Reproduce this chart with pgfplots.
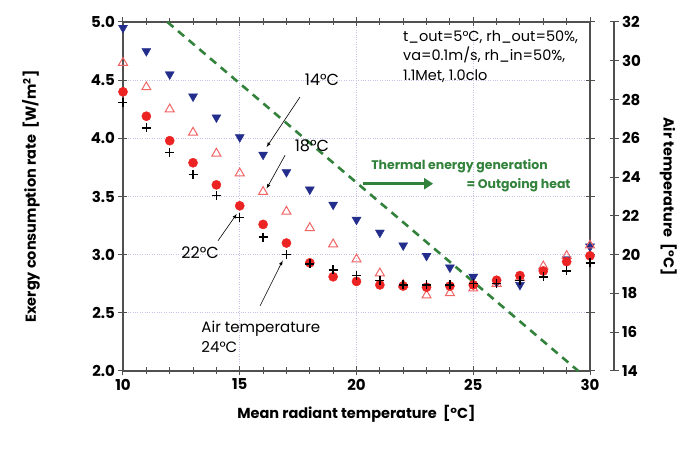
\documentclass[border=0pt]{standalone}
\usepackage{fontspec}
\setmainfont{Poppins}
\usepackage{pgfplots}
\pgfplotsset{compat=1.18}
\usetikzlibrary{arrows.meta}
\definecolor{blueT}{RGB}{35,45,140}
\definecolor{redC}{RGB}{235,35,35}
\definecolor{redT}{RGB}{240,100,100}
\definecolor{greenL}{RGB}{50,130,60}
\definecolor{gridc}{RGB}{195,195,235}
\definecolor{axisc}{RGB}{80,80,80}
\begin{document}
\begin{tikzpicture}
\useasboundingbox (-123pt,-83pt) rectangle (570pt,371pt);
\pgfplotsset{
  common/.style={scale only axis, width=467pt, height=349pt, xmin=10, xmax=30,
    tick align=center, major tick length=9pt, minor tick length=7pt,
    axis line style={axisc, line width=1.2pt},
    every tick/.style={axisc, line width=1pt},
    ticklabel style={font=\fontsize{15}{15}\selectfont\bfseries},
    /pgf/number format/assume math mode=true,
    label style={font=\fontsize{14.5}{17}\selectfont\bfseries},
  }
}
\begin{axis}[common, ymin=2, ymax=5,
  xtick={10,15,20,25,30}, minor xtick={11,12,13,14,16,17,18,19,21,22,23,24,26,27,28,29},
  ytick={2,2.5,3,3.5,4,4.5,5},
  yticklabel style={/pgf/number format/.cd, fixed, fixed zerofill, precision=1},
  grid=major, major grid style={gridc, dotted, line width=0.9pt},
  xlabel={Mean radiant temperature\ \ [°C]},
  ylabel={Exergy consumption rate\ \ [W/m\textsuperscript{2}]},
  xlabel style={yshift=-8pt},
  ylabel shift=44pt,
  clip=false]
% green dashed line
\addplot[greenL, line width=2.6pt, dash pattern=on 8pt off 6pt] coordinates {(11.9,5.0) (29.5,2.0)};
% 14 C (blue inverted triangles)
\addplot[only marks, mark=triangle*, mark size=5.2pt, mark options={rotate=180, fill=blueT, draw=blueT}] coordinates {
(10,4.95) (11,4.75) (12,4.55) (13,4.36) (14,4.18) (15,4.01) (16,3.86) (17,3.71) (18,3.56) (19,3.43) (20,3.30)
(21,3.19) (22,3.08) (23,2.99) (24,2.89) (25,2.81) (26,2.76) (27,2.74) (28,2.86) (29,2.96) (30,3.07)};
% 18 C (open red triangles)
\addplot[only marks, mark=triangle, mark size=5.2pt, mark options={draw=redT, line width=1pt}] coordinates {
(10,4.65) (11,4.44) (12,4.25) (13,4.05) (14,3.87) (15,3.70) (16,3.54) (17,3.37) (18,3.23) (19,3.09) (20,2.96)
(21,2.84) (22,2.74) (23,2.65) (24,2.67) (25,2.71) (26,2.75) (27,2.80) (28,2.90) (29,2.99) (30,3.08)};
% 22 C (red circles)
\addplot[only marks, mark=*, mark size=4.6pt, mark options={fill=redC, draw=redC}] coordinates {
(10,4.40) (11,4.19) (12,3.98) (13,3.79) (14,3.60) (15,3.42) (16,3.26) (17,3.10) (18,2.93) (19,2.81) (20,2.77)
(21,2.74) (22,2.73) (23,2.72) (24,2.73) (25,2.74) (26,2.78) (27,2.82) (28,2.86) (29,2.94) (30,2.99)};
% 24 C (black crosses)
\addplot[only marks, mark=+, mark size=4.5pt, mark options={draw=black, line width=1.5pt}] coordinates {
(10,4.31) (11,4.09) (12,3.88) (13,3.69) (14,3.51) (15,3.32) (16,3.15) (17,3.00) (18,2.92) (19,2.87) (20,2.82)
(21,2.78) (22,2.74) (23,2.74) (24,2.74) (25,2.75) (26,2.75) (27,2.78) (28,2.81) (29,2.86) (30,2.93)};
% annotations
\draw[-latex, black, line width=0.6pt] (axis cs:17.58,4.355) -- (axis cs:16.15,3.925);
\node[font=\fontsize{16}{16}\selectfont] at (axis cs:18.52,4.50) {14°C};
\draw[-latex, black, line width=0.6pt] (axis cs:16.94,3.854) -- (axis cs:16.15,3.568);
\node[font=\fontsize{16}{16}\selectfont] at (axis cs:18.09,3.94) {18°C};
\draw[-latex, black, line width=0.6pt] (axis cs:14.07,3.12) -- (axis cs:14.87,3.35);
\node[font=\fontsize{16}{16}\selectfont] at (axis cs:13.30,3.02) {22°C};
\draw[-latex, black, line width=0.6pt] (axis cs:15.87,2.56) -- (axis cs:16.84,2.95);
\node[font=\fontsize{15}{20}\selectfont, anchor=west, align=left] at (axis cs:13.21,2.29) {Air temperature\\24°C};
% thermal energy
\draw[-{Triangle[length=9pt,width=11pt]}, greenL, line width=3.5pt] (axis cs:20.28,3.61) -- (axis cs:23.28,3.61);
\node[font=\fontsize{12.5}{12.5}\selectfont\bfseries, text=greenL] at (axis cs:24.41,3.76) {Thermal energy generation};
\node[font=\fontsize{12.5}{12.5}\selectfont\bfseries, text=greenL] at (axis cs:26.94,3.60) {= Outgoing heat};
\node[font=\fontsize{14.5}{19.5}\selectfont, anchor=north west, align=left, inner sep=0pt] at (axis cs:21.99,4.93)
  {t\_out=5°C, rh\_out=50\%,\\va=0.1m/s, rh\_in=50\%,\\1.1Met, 1.0clo};
\end{axis}
\begin{axis}[common, at={(24pt,0pt)}, ymin=14, ymax=32, ytick={14,16,...,32},
  axis y line*=right, axis x line=none,
  ylabel={Air temperature\ \ [°C]}, ylabel style={rotate=180}, ylabel shift=12pt]
\end{axis}
\end{tikzpicture}
\end{document}
